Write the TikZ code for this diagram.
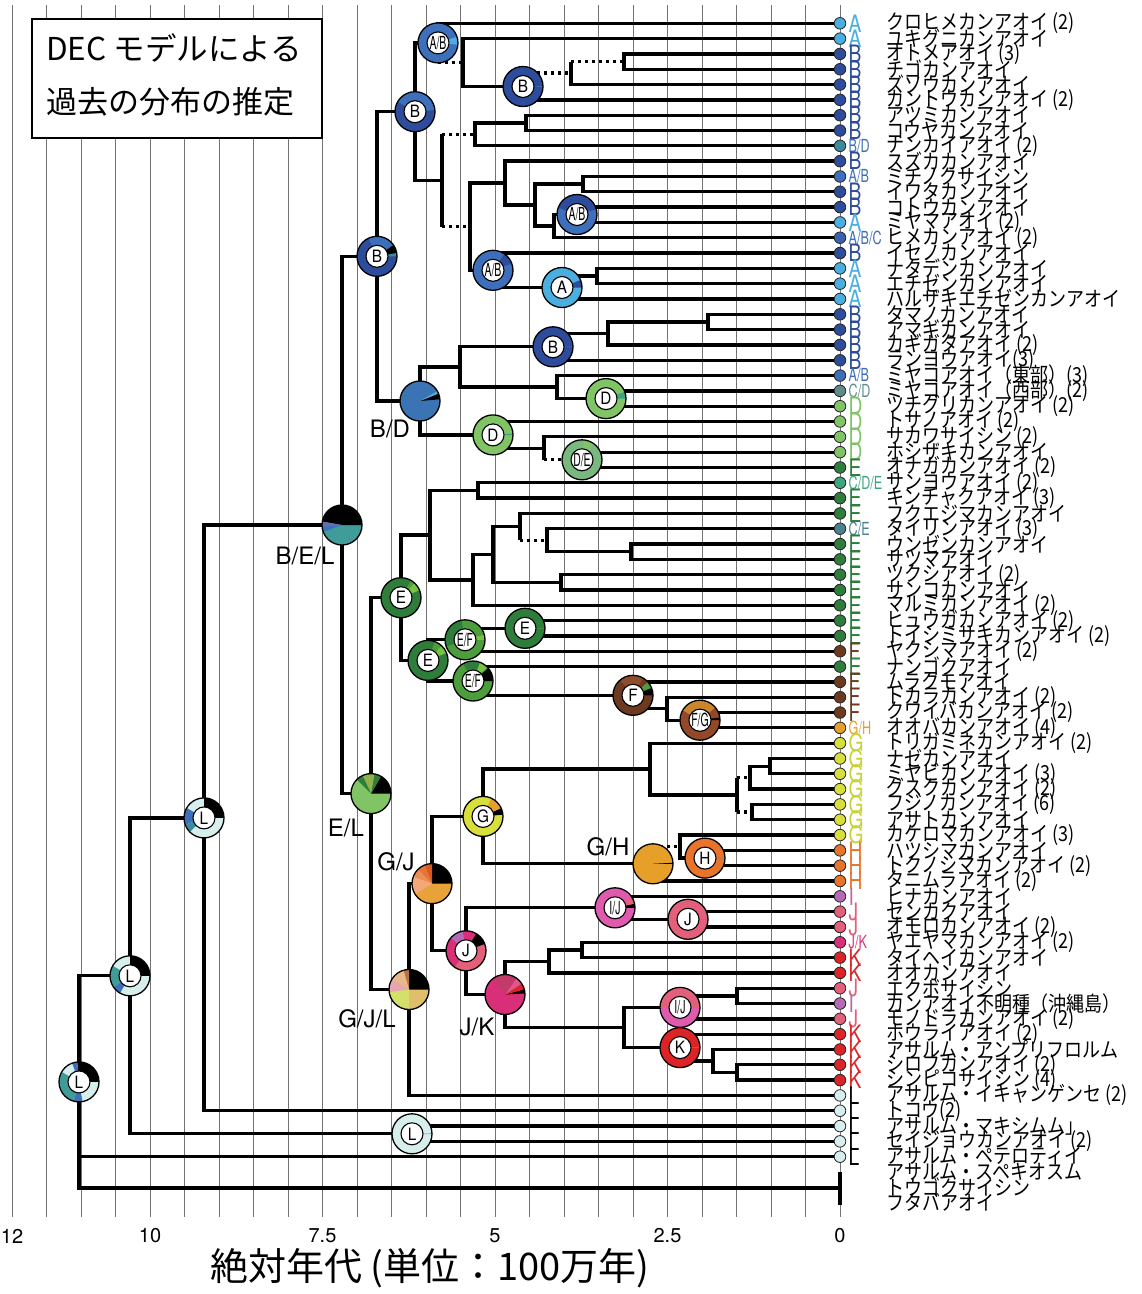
\documentclass[tikz,border=0pt]{standalone}
\usepackage{fontspec}
\setmainfont{TeX Gyre Heros}
\newfontfamily\jp{Noto Sans CJK JP}
\usetikzlibrary{calc}
\definecolor{cA}{HTML}{4BAEE0}
\definecolor{cB}{HTML}{2D4C9B}
\definecolor{cAB}{HTML}{3D6FBA}
\definecolor{cBD}{HTML}{3B8A9E}
\definecolor{cABC}{HTML}{3B62AE}
\definecolor{cCD}{HTML}{5E8C8C}
\definecolor{cD}{HTML}{80C465}
\definecolor{cE}{HTML}{2E7D3A}
\definecolor{cCDE}{HTML}{3BA57E}
\definecolor{cCE}{HTML}{4A8090}
\definecolor{cF}{HTML}{6E3A1F}
\definecolor{cGH}{HTML}{E6A02A}
\definecolor{cG}{HTML}{D8DE3A}
\definecolor{tG}{HTML}{C8D232}
\definecolor{cH}{HTML}{E8732A}
\definecolor{cI}{HTML}{B56AB8}
\definecolor{cJ}{HTML}{E2607A}
\definecolor{cJK}{HTML}{D82F78}
\definecolor{cK}{HTML}{DC2428}
\definecolor{cL}{HTML}{D6EEEC}
\definecolor{lgreen}{HTML}{79C142}
\definecolor{mgreen}{HTML}{4C9E3C}
\definecolor{lbrown}{HTML}{8E4D2C}
\definecolor{fgmain}{HTML}{94482A}
\definecolor{orng}{HTML}{C9862C}
\definecolor{teal2}{HTML}{3F9C98}
\definecolor{pinkm}{HTML}{E05AAE}
\definecolor{rose}{HTML}{C23A6A}
\definecolor{rose2}{HTML}{E0558A}
\definecolor{bdmain}{HTML}{3B74B5}
\definecolor{demain}{HTML}{79B87E}
\definecolor{olive2}{HTML}{8FB04A}
\definecolor{purp}{HTML}{6A6AB0}
\definecolor{gjA}{HTML}{D85A20}
\definecolor{gjB}{HTML}{E8733A}
\definecolor{gjC}{HTML}{E98F55}
\definecolor{gjD}{HTML}{F2A878}
\definecolor{gjE}{HTML}{E8A23A}
\definecolor{gjlA}{HTML}{B8743E}
\definecolor{gjlB}{HTML}{E6B88A}
\definecolor{gjlC}{HTML}{E8A6B0}
\definecolor{gjlD}{HTML}{D4E06A}
\definecolor{gjlE}{HTML}{E0BE6E}
\newcommand\arsgl[1]{\scalebox{0.8}[1]{\fontsize{24}{24}\selectfont #1}}
\newcommand\arcmp[1]{\scalebox{0.7}[1]{\fontsize{18}{18}\selectfont #1}}
\newcommand\ringlab[1]{\scalebox{0.9}[1]{\fontsize{17}{17}\selectfont #1}}
\newcommand\ringlabc[1]{\scalebox{0.58}[1]{\fontsize{18}{18}\selectfont #1}}
\newcommand\spname[1]{\scalebox{1}[1.15]{\jp\fontsize{18}{18}\selectfont #1}}
\newcommand\defarea[4]{\expandafter\def\csname arlab#1\endcsname{#2}\colorlet{fill#1}{#3}\colorlet{txt#1}{#4}}
\defarea{A}{\arsgl{A}}{cA}{cA}
\defarea{B}{\arsgl{B}}{cB}{cB}
\defarea{BD}{\arcmp{B/D}}{cBD}{cAB}
\defarea{AB}{\arcmp{A/B}}{cAB}{cAB}
\defarea{ABC}{\arcmp{A/B/C}}{cABC}{cAB}
\defarea{CD}{\arcmp{C/D}}{cCD}{cCD}
\defarea{D}{\arsgl{D}}{cD}{cD}
\defarea{E}{\arsgl{E}}{cE}{cE}
\defarea{CDE}{\arcmp{C/D/E}}{cCDE}{cCDE}
\defarea{CE}{\arcmp{C/E}}{cCE}{cCE}
\defarea{F}{\arsgl{F}}{cF}{cF}
\defarea{GH}{\arcmp{G/H}}{cGH}{cGH}
\defarea{G}{\arsgl{G}}{cG}{tG}
\defarea{H}{\arsgl{H}}{cH}{cH}
\defarea{I}{\arsgl{I}}{cI}{cI}
\defarea{J}{\arsgl{J}}{cJ}{cJ}
\defarea{JK}{\arcmp{J/K}}{cJK}{cJK}
\defarea{K}{\arsgl{K}}{cK}{cK}
\defarea{L}{\arsgl{L}}{cL}{black}
\tikzset{
  br/.style={line width=3.3pt},
  dl/.style={line width=3.3pt, dash pattern=on 3.4pt off 3.6pt},
  extlab/.style={inner sep=0pt, font=\fontsize{24}{24}\selectfont},
  axnum/.style={inner sep=0pt, font=\fontsize{20}{20}\selectfont},
}
\newcommand\tedge[2]{\draw[br] (#1) |- (#2);}
\newcommand\tdedge[2]{\draw[br] (#1) -- (#1 |- #2); \draw[dl] (#1 |- #2) -- (#2);}
\newcommand\pwedge[5]{\fill[#5] (#1) -- ++({-(#3)}:#2) arc[start angle={-(#3)}, end angle={-(#4)}, radius=#2] -- cycle;}
\newcommand\ringpie[4]{%
  \fill[#2] (#1) circle[radius=20];
  \foreach \a/\b/\c in {#3} {\pwedge{#1}{20}{\a}{\b}{\c}}
  \draw[line width=1.3pt] (#1) circle[radius=20];
  \node[circle, draw, line width=1.1pt, fill=white, minimum size=22pt, inner sep=0pt] (#1-l) at (#1) {#4};}
\newcommand\fullpie[3]{%
  \fill[#2] (#1) circle[radius=20];
  \foreach \a/\b/\c in {#3} {\pwedge{#1}{20}{\a}{\b}{\c}}
  \draw[line width=1.3pt] (#1) circle[radius=20];}
\begin{document}
\begin{tikzpicture}[x=1pt,y=-1pt,line join=miter]
\useasboundingbox (0,0) rectangle (1142,1294);
\fill[white] (0,0) rectangle (1142,1294);
% time grid
\foreach \k in {0,...,24} \draw[black!55, line width=0.9pt] ({12+34.5*\k},5) -- ({12+34.5*\k},1217);
% title box
\node[draw, line width=1.5pt, fill=white, minimum width=290pt, minimum height=119pt, anchor=north west, inner sep=0pt] (title) at (31,18) {};
\node[anchor=west, inner sep=0pt] (title1) at (46,48) {\jp\fontsize{31.5}{31.5}\selectfont DEC モデルによる};
\node[anchor=west, inner sep=0pt] (title2) at (46,102) {\jp\fontsize{31}{31}\selectfont 過去の分布の推定};
% tips
\foreach \i in {1,...,75} \coordinate (t\i) at (840,{23.3+(\i-1)*15.316});
\coordinate (og) at (840,1188);
\coordinate (ogt) at (840,1172);
\coordinate (ogb) at (840,1205);
% internal nodes
\coordinate (root) at (79,1081.9);
\coordinate (n130) at (130,975.8);
\coordinate (n205) at (204,817.9);
\coordinate (nL2) at (412,1133.8);
\coordinate (nBEL) at (342,525.0);
\coordinate (nB3) at (377,256.3);
\coordinate (nB1) at (415,111.7);
\coordinate (nAB1) at (438,42.9);
\coordinate (n463) at (463,62.6);
\coordinate (nB2) at (523,86.5);
\coordinate (n571) at (571,73.1);
\coordinate (n624a) at (624,61.6);
\coordinate (n442) at (442,180.5);
\coordinate (n475) at (475,134.3);
\coordinate (n526) at (526,122.9);
\coordinate (n470) at (470,226.7);
\coordinate (n505) at (505,183.1);
\coordinate (n535) at (535,205.1);
\coordinate (n583) at (583,184.1);
\coordinate (n554) at (554,226.1);
\coordinate (nAB2) at (577,214.5);
\coordinate (nAB3) at (493,270.3);
\coordinate (nA1) at (562,287.5);
\coordinate (n597) at (597,276.0);
\coordinate (nBD) at (420,401.0);
\coordinate (n460) at (460,367.0);
\coordinate (nB4) at (553,346.8);
\coordinate (n608) at (608,333.4);
\coordinate (n708) at (708,322.0);
\coordinate (n557) at (557,387.1);
\coordinate (nD1) at (606,398.6);
\coordinate (nD2) at (493,434.9);
\coordinate (n544) at (544,448.3);
\coordinate (nDE) at (582,459.8);
\coordinate (nEL) at (371,793.6);
\coordinate (nE1) at (401,597.7);
\coordinate (n430) at (430,535.1);
\coordinate (n478) at (478,490.4);
\coordinate (n473) at (473,579.9);
\coordinate (n493) at (493,554.5);
\coordinate (n520) at (520,526.8);
\coordinate (n547) at (547,540.2);
\coordinate (n631) at (631,551.7);
\coordinate (n561) at (561,582.3);
\coordinate (nE3) at (428,660.4);
\coordinate (nEF1) at (465,639.8);
\coordinate (nE2) at (525,628.3);
\coordinate (nEF2) at (473,681.0);
\coordinate (nF) at (633,695.3);
\coordinate (n667) at (667,708.7);
\coordinate (nFG) at (700,720.2);
\coordinate (nGJL) at (409,989.5);
\coordinate (nGJ) at (432,883.6);
\coordinate (nG) at (483,816.4);
\coordinate (n650) at (650,769.1);
\coordinate (n737a) at (737,795.0);
\coordinate (n750) at (750,777.7);
\coordinate (n770) at (770,766.2);
\coordinate (n752) at (752,812.1);
\coordinate (nGH) at (653,863.8);
\coordinate (n680) at (680,846.6);
\coordinate (nH) at (705,858.1);
\coordinate (nJ1) at (466,950.8);
\coordinate (nIJ1) at (615,907.8);
\coordinate (nJ2) at (688,919.3);
\coordinate (nJK) at (505,994.5);
\coordinate (n549) at (549,961.4);
\coordinate (n582) at (582,950.0);
\coordinate (n624b) at (624,1027.5);
\coordinate (nIJ2) at (680,1007.4);
\coordinate (n737b) at (737,995.9);
\coordinate (nK) at (680,1047.6);
\coordinate (n713) at (713,1061.0);
\coordinate (n737c) at (737,1072.5);
% branches
\tedge{root}{n130} \tedge{root}{t75} \tedge{root}{og}
\draw[line width=4pt] (ogt) -- (ogb);
\tedge{n130}{n205} \tedge{n130}{nL2}
\tedge{n205}{nBEL} \tedge{n205}{t72}
\tedge{nL2}{t73} \tedge{nL2}{t74}
\tedge{nBEL}{nB3} \tedge{nBEL}{nEL}
\tedge{nB3}{nB1} \tedge{nB3}{nBD}
\tedge{nB1}{nAB1} \tedge{nB1}{n442}
\tedge{nAB1}{t1} \tdedge{nAB1}{n463}
\tedge{n463}{t2} \tedge{n463}{nB2}
\tdedge{nB2}{n571} \tedge{nB2}{t6}
\tdedge{n571}{n624a} \tedge{n571}{t5}
\tedge{n624a}{t3} \tedge{n624a}{t4}
\tdedge{n442}{n475} \tdedge{n442}{n470}
\tedge{n475}{n526} \tedge{n475}{t9}
\tedge{n526}{t7} \tedge{n526}{t8}
\tedge{n470}{n505} \tedge{n470}{nAB3}
\tedge{n505}{t10} \tedge{n505}{n535}
\tedge{n535}{n583} \tedge{n535}{n554}
\tedge{n583}{t11} \tedge{n583}{t12}
\tedge{n554}{nAB2} \tedge{n554}{t15}
\tedge{nAB2}{t13} \tedge{nAB2}{t14}
\tedge{nAB3}{t16} \tedge{nAB3}{nA1}
\tedge{nA1}{n597} \tedge{nA1}{t19}
\tedge{n597}{t17} \tedge{n597}{t18}
\tedge{nBD}{n460} \tedge{nBD}{nD2}
\tedge{n460}{nB4} \tedge{n460}{n557}
\tedge{nB4}{n608} \tedge{nB4}{t23}
\tedge{n608}{n708} \tedge{n608}{t22}
\tedge{n708}{t20} \tedge{n708}{t21}
\tedge{n557}{t24} \tedge{n557}{nD1}
\tedge{nD1}{t25} \tedge{nD1}{t26}
\tedge{nD2}{t27} \tedge{nD2}{n544}
\tedge{n544}{t28} \tdedge{n544}{nDE}
\tedge{nDE}{t29} \tedge{nDE}{t30}
\tedge{nEL}{nE1} \tedge{nEL}{nGJL}
\tedge{nE1}{n430} \tedge{nE1}{nE3}
\tedge{n430}{n478} \tedge{n430}{n473}
\tedge{n478}{t31} \tedge{n478}{t32}
\tedge{n473}{n493} \tedge{n473}{t39}
\tedge{n493}{n520} \tedge{n493}{n561}
\tedge{n520}{t33} \tdedge{n520}{n547}
\tedge{n547}{t34} \tedge{n547}{n631}
\tedge{n631}{t35} \tedge{n631}{t36}
\tedge{n561}{t37} \tedge{n561}{t38}
\tedge{nE3}{nEF1} \tedge{nE3}{nEF2}
\tedge{nEF1}{nE2} \tedge{nEF1}{t42}
\tedge{nE2}{t40} \tedge{nE2}{t41}
\tedge{nEF2}{t43} \tedge{nEF2}{nF}
\tedge{nF}{t44} \tedge{nF}{n667}
\tedge{n667}{t45} \tedge{n667}{nFG}
\tedge{nFG}{t46} \tedge{nFG}{t47}
\tedge{nGJL}{nGJ} \tedge{nGJL}{t71}
\tedge{nGJ}{nG} \tedge{nGJ}{nJ1}
\tedge{nG}{n650} \tedge{nG}{nGH}
\tedge{n650}{t48} \tedge{n650}{n737a}
\tdedge{n737a}{n750} \tdedge{n737a}{n752}
\tedge{n750}{n770} \tedge{n750}{t51}
\tedge{n770}{t49} \tedge{n770}{t50}
\tedge{n752}{t52} \tedge{n752}{t53}
\tdedge{nGH}{n680} \tedge{nGH}{t57}
\tedge{n680}{t54} \tedge{n680}{nH}
\tedge{nH}{t55} \tedge{nH}{t56}
\tedge{nJ1}{nIJ1} \tedge{nJ1}{nJK}
\tedge{nIJ1}{t58} \tedge{nIJ1}{nJ2}
\tedge{nJ2}{t59} \tedge{nJ2}{t60}
\tedge{nJK}{n549} \tedge{nJK}{n624b}
\tedge{n549}{n582} \tedge{n549}{t63}
\tedge{n582}{t61} \tedge{n582}{t62}
\tedge{n624b}{nIJ2} \tedge{n624b}{nK}
\tedge{nIJ2}{n737b} \tedge{nIJ2}{t66}
\tedge{n737b}{t64} \tedge{n737b}{t65}
\tedge{nK}{t67} \tedge{nK}{n713}
\tedge{n713}{t68} \tedge{n713}{n737c}
\tedge{n737c}{t69} \tedge{n737c}{t70}
% tip circles and area labels
\foreach \i/\k in {1/A,2/A,3/B,4/B,5/B,6/B,7/B,8/B,9/BD,10/B,11/AB,12/B,13/B,14/A,15/ABC,16/B,17/A,18/A,19/A,20/B,21/B,22/B,23/B,24/AB,25/CD,26/D,27/D,28/D,29/D,30/E,31/CDE,32/E,33/E,34/CE,35/E,36/E,37/E,38/E,39/E,40/E,41/E,42/F,43/E,44/F,45/F,46/F,47/GH,48/G,49/G,50/G,51/G,52/G,53/G,54/G,55/H,56/H,57/H,58/I,59/J,60/J,61/JK,62/K,63/K,64/J,65/I,66/J,67/K,68/K,69/K,70/K,71/L,72/L,73/L,74/L,75/L}{
  \fill[fill\k, draw=black!85, line width=0.8pt] (t\i) circle[radius=5.8];
  \node[anchor=west, inner sep=0pt, text=txt\k] (ar\i) at ($(t\i)+(8.5,0)$) {\csname arlab\k\endcsname};
}
% species names
\foreach \i/\nm in {1/クロヒメカンアオイ (2),2/ユキグニカンアオイ,3/オトメアオイ (3),4/チゴカンアオイ,5/ズソウカンアオイ,6/カントウカンアオイ (2),7/アツミカンアオイ,8/コウヤカンアオイ,9/ナンカイアオイ (2),10/スズカカンアオイ,11/ミチノクサイシン,12/イワタカンアオイ,13/コトウカンアオイ,14/ミヤマアオイ (2),15/ヒメカンアオイ (2),16/イセノカンアオイ,17/ナタデンカンアオイ,18/エチゼンカンアオイ,19/ハルザキエチゼンカンアオイ,20/タマノカンアオイ,21/アマギカンアオイ,22/カギガタアオイ (2),23/ランヨウアオイ(3),24/ミヤコアオイ（東部）(3),25/ミヤコアオイ（西部）(2),26/ツチグリカンアオイ (2),27/トサノアオイ (2),28/サカワサイシン (2),29/ホシザキカンアオイ,30/オナガカンアオイ (2),31/サンヨウアオイ (2),32/キンチャクアオイ (3),33/フクエジマカンアオイ,34/タイリンアオイ (3),35/ウンゼンカンアオイ,36/サツマアオイ,37/ツクシアオイ (2),38/サンコカンアオイ,39/マルミカンアオイ (2),40/ヒュウガカンアオイ (2),41/トイシミサキカンアオイ (2),42/ヤクシマアオイ (2),43/ナンゴクアオイ,44/ムラクモアオイ,45/トカラカンアオイ (2),46/クワイバカンアオイ (2),47/オオバカンアオイ (4),48/トリガミネカンアオイ (2),49/ナゼカンアオイ,50/ミヤビカンアオイ (3),51/グスクカンアオイ (2),52/フジノカンアオイ (6),53/アサトカンアオイ,54/カケロマカンアオイ (3),55/ハツシマカンアオイ,56/トクノシマカンアオイ (2),57/タニムラアオイ (2),58/ヒナカンアオイ,59/センカクアオイ,60/オモロカンアオイ (2),61/ヤエヤマカンアオイ (2),62/タイヘイカンアオイ,63/オオカンアオイ,64/エクボサイシン,65/カンアオイ不明種（沖縄島）,66/モノドラカンアオイ (2),67/ホウライアオイ (2),68/アサルム・アンプリフロルム,69/シロフカンアオイ (2),70/シンピコサイシン (4),71/アサルム・イキャンゲンセ (2),72/トコウ(2),73/アサルム・マキシムム」,74/セイジョウカンアオイ (2),75/アサルム・ペテロティイ,76/アサルム・スペキオスム,77/トウゴクサイシン,78/フタバアオイ}{
  \node[anchor=west, inner sep=0pt] (sp\i) at (886,{23.3+(\i-1)*15.316}) {\spname{\nm}};
}
% ancestral range pies
\ringpie{nAB1}{cAB}{-5/18/cA}{\ringlabc{A/B}}
\ringpie{nB2}{cB}{-1/1/cAB}{\ringlab{B}}
\ringpie{nB1}{cB}{5/150/cAB}{\ringlab{B}}
\ringpie{nB3}{cB}{0/10/cBD,10/35/black,35/115/cAB}{\ringlab{B}}
\ringpie{nAB3}{cAB}{20/55/cB}{\ringlabc{A/B}}
\ringpie{nA1}{cA}{0/22/cB}{\ringlab{A}}
\ringpie{nAB2}{cAB}{15/160/cB}{\ringlabc{A/B}}
\ringpie{nB4}{cB}{-1/1/cAB}{\ringlab{B}}
\fullpie{nBD}{bdmain}{5/22/black,22/30/cA}
\ringpie{nD1}{cD}{0/20/cCDE}{\ringlab{D}}
\ringpie{nD2}{cD}{-1/4/cCDE}{\ringlab{D}}
\ringpie{nDE}{demain}{55/85/cD}{\ringlabc{D/E}}
\ringpie{nE1}{cE}{22/48/lgreen,48/60/mgreen}{\ringlab{E}}
\ringpie{nE2}{cE}{-1/1/mgreen}{\ringlab{E}}
\ringpie{nEF1}{mgreen}{100/200/cE,0/15/lgreen}{\ringlabc{E/F}}
\ringpie{nE3}{cE}{22/48/lgreen,48/70/mgreen}{\ringlab{E}}
\ringpie{nEF2}{mgreen}{0/40/black,45/70/lgreen,70/120/cE}{\ringlabc{E/F}}
\ringpie{nF}{cF}{0/22/black,22/42/mgreen,60/130/lbrown}{\ringlab{F}}
\ringpie{nFG}{fgmain}{40/150/orng,0/8/black}{\ringlabc{F/G}}
\ringpie{nG}{cG}{5/25/black,25/65/cGH}{\ringlab{G}}
\fullpie{nGH}{cGH}{0/3/black}
\ringpie{nH}{cH}{-1/1/gray}{\ringlab{H}}
\fullpie{nGJ}{gjE}{0/90/black,90/112/gjA,112/135/gjB,135/160/gjC,160/212/gjD}
\ringpie{nIJ1}{pinkm}{0/12/black,12/32/cJ}{\ringlabc{I/J}}
\ringpie{nJ2}{cJ}{-1/1/gray}{\ringlab{J}}
\ringpie{nJ1}{cJ}{20/60/black,60/100/cJK,100/140/cI,140/235/cJK}{\ringlab{J}}
\fullpie{nJK}{cJK}{3/15/black,15/33/cK,33/55/rose2,55/125/rose}
\ringpie{nIJ2}{pinkm}{0/180/cJ}{\ringlabc{I/J}}
\ringpie{nK}{cK}{-1/1/gray}{\ringlab{K}}
\fullpie{nGJL}{gjlE}{0/90/black,90/106/gjlA,106/150/gjlB,150/188/gjlC,188/270/gjlD}
\fullpie{nEL}{cD}{0/60/black,60/80/cE,80/115/olive2,115/135/cE}
\fullpie{nBEL}{teal2}{0/170/black,170/185/purp,185/200/cAB}
\ringpie{n205}{cL}{0/90/black,150/200/cAB,200/225/cBD}{\ringlab{L}}
\ringpie{n130}{cL}{0/90/black,150/215/teal2,215/240/cAB}{\ringlab{L}}
\ringpie{root}{cL}{0/95/black,95/110/cAB,150/255/teal2,255/280/cAB}{\ringlab{L}}
\ringpie{nL2}{cL}{-1/1/gray}{\ringlab{L}}
% labels of the full pies
\node[extlab] (lBEL) at (305,556) {B/E/L};
\node[extlab] (lBD) at (390,429) {B/D};
\node[extlab] (lEL) at (346,828) {E/L};
\node[extlab] (lGJ) at (396,862) {G/J};
\node[extlab] (lGH) at (608,847) {G/H};
\node[extlab] (lJK) at (477,1027) {J/K};
\node[extlab] (lGJL) at (367,1019) {G/J/L};
% axis
\node[axnum] (ax12) at (12,1236) {12};
\node[axnum] (ax10) at (150,1236) {10};
\node[axnum] (ax75) at (322.5,1236) {7.5};
\node[axnum] (ax5) at (495,1236) {5};
\node[axnum] (ax25) at (667.5,1236) {2.5};
\node[axnum] (ax0) at (840,1236) {0};
\node[inner sep=0pt] (axtitle) at (430,1268) {\jp\fontsize{38}{38}\selectfont 絶対年代 (単位：100万年)};
\end{tikzpicture}
\end{document}
